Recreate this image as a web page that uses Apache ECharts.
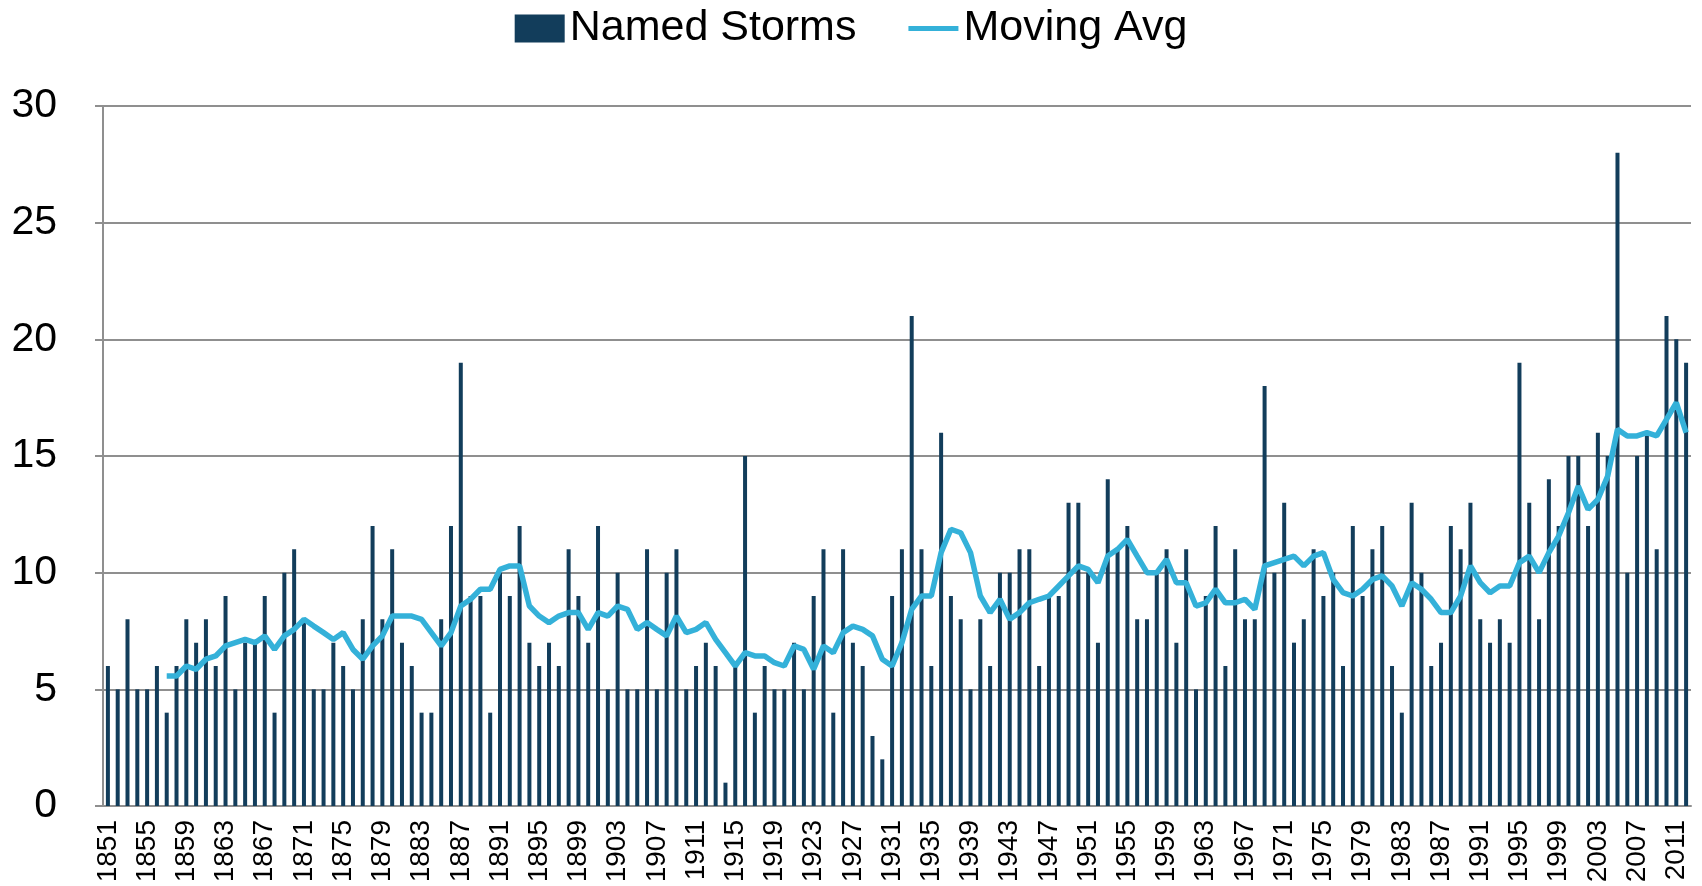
<!DOCTYPE html>
<html>
<head>
<meta charset="utf-8">
<style>
  html, body { margin: 0; padding: 0; background: #fff; }
  #chart { width: 1702px; height: 886px; }
</style>
<script src="https://cdn.jsdelivr.net/npm/echarts@6/dist/echarts.min.js"></script>
</head>
<body>
<div id="chart"></div>
<script>
// years on the category axis
const years = [
    '1851', '1852', '1853', '1854', '1855', '1856', '1857', '1858', '1859', '1860',
    '1861', '1862', '1863', '1864', '1865', '1866', '1867', '1868', '1869', '1870',
    '1871', '1872', '1873', '1874', '1875', '1876', '1877', '1878', '1879', '1880',
    '1881', '1882', '1883', '1884', '1885', '1886', '1887', '1888', '1889', '1890',
    '1891', '1892', '1893', '1894', '1895', '1896', '1897', '1898', '1899', '1900',
    '1901', '1902', '1903', '1904', '1905', '1906', '1907', '1908', '1909', '1910',
    '1911', '1912', '1913', '1914', '1915', '1916', '1917', '1918', '1919', '1920',
    '1921', '1922', '1923', '1924', '1925', '1926', '1927', '1928', '1929', '1930',
    '1931', '1932', '1933', '1934', '1935', '1936', '1937', '1938', '1939', '1940',
    '1941', '1942', '1943', '1944', '1945', '1946', '1947', '1948', '1949', '1950',
    '1951', '1952', '1953', '1954', '1955', '1956', '1957', '1958', '1959', '1960',
    '1961', '1962', '1963', '1964', '1965', '1966', '1967', '1968', '1969', '1970',
    '1971', '1972', '1973', '1974', '1975', '1976', '1977', '1978', '1979', '1980',
    '1981', '1982', '1983', '1984', '1985', '1986', '1987', '1988', '1989', '1990',
    '1991', '1992', '1993', '1994', '1995', '1996', '1997', '1998', '1999', '2000',
    '2001', '2002', '2003', '2004', '2005', '2006', '2007', '2008', '2009', '2010',
    '2011', '2012'
];

// named storms per year
const namedStorms = [
    6, 5, 8, 5, 5, 6, 4, 6, 8, 7,
    8, 6, 9, 5, 7, 7, 9, 4, 10, 11,
    8, 5, 5, 7, 6, 5, 8, 12, 8, 11,
    7, 6, 4, 4, 8, 12, 19, 9, 9, 4,
    10, 9, 12, 7, 6, 7, 6, 11, 9, 7,
    12, 5, 10, 5, 5, 11, 5, 10, 11, 5,
    6, 7, 6, 1, 6, 15, 4, 6, 5, 5,
    7, 5, 9, 11, 4, 11, 7, 6, 3, 2,
    9, 11, 21, 11, 6, 16, 9, 8, 5, 8,
    6, 10, 10, 11, 11, 6, 9, 9, 13, 13,
    10, 7, 14, 11, 12, 8, 8, 10, 11, 7,
    11, 5, 9, 12, 6, 11, 8, 8, 18, 10,
    13, 7, 8, 11, 9, 10, 6, 12, 9, 11,
    12, 6, 4, 13, 10, 6, 7, 12, 11, 13,
    8, 7, 8, 7, 19, 13, 8, 14, 12, 15,
    15, 12, 16, 15, 28, 10, 15, 16, 11, 21,
    20, 19
];

// moving average line (starts in 1857)
const movingAvg = [
    null, null, null, null, null, null, 5.57, 5.57, 6.00, 5.86,
    6.29, 6.43, 6.86, 7.00, 7.14, 7.00, 7.29, 6.71, 7.29, 7.57,
    8.00, 7.71, 7.43, 7.14, 7.43, 6.71, 6.29, 6.86, 7.29, 8.14,
    8.14, 8.14, 8.00, 7.43, 6.86, 7.43, 8.57, 8.86, 9.29, 9.29,
    10.14, 10.29, 10.29, 8.57, 8.14, 7.86, 8.14, 8.29, 8.29, 7.57,
    8.29, 8.14, 8.57, 8.43, 7.57, 7.86, 7.57, 7.29, 8.14, 7.43,
    7.57, 7.86, 7.14, 6.57, 6.00, 6.57, 6.43, 6.43, 6.14, 6.00,
    6.86, 6.71, 5.86, 6.86, 6.57, 7.43, 7.71, 7.57, 7.29, 6.29,
    6.00, 7.00, 8.43, 9.00, 9.00, 10.86, 11.86, 11.71, 10.86, 9.00,
    8.29, 8.86, 8.00, 8.29, 8.71, 8.86, 9.00, 9.43, 9.86, 10.29,
    10.14, 9.57, 10.71, 11.00, 11.43, 10.71, 10.00, 10.00, 10.57, 9.57,
    9.57, 8.57, 8.71, 9.29, 8.71, 8.71, 8.86, 8.43, 10.29, 10.43,
    10.57, 10.71, 10.29, 10.71, 10.86, 9.71, 9.14, 9.00, 9.29, 9.71,
    9.86, 9.43, 8.57, 9.57, 9.29, 8.86, 8.29, 8.29, 9.00, 10.29,
    9.57, 9.14, 9.43, 9.43, 10.43, 10.71, 10.00, 10.86, 11.57, 12.57,
    13.71, 12.71, 13.14, 14.14, 16.14, 15.86, 15.86, 16.00, 15.86, 16.57,
    17.29, 16.00
];

const font = '"Liberation Sans", Arial, sans-serif';
const gridColor = '#8f8f8f';

const chart = echarts.init(document.getElementById('chart'));

chart.setOption({
    animation: false,
    textStyle: { fontFamily: font },
    legend: {
        top: 2,
        left: 'center',
        itemWidth: 50,
        itemHeight: 28,
        itemGap: 52,
        textStyle: { fontSize: 43, color: '#000' },
        data: [
            { name: 'Named Storms', icon: 'rect' },
            { name: 'Moving Avg', icon: 'path://M0,0 L50,0 L50,5 L0,5 Z' }
        ]
    },
    grid: {
        left: 103,
        right: 11,
        top: 106,
        bottom: 80
    },
    xAxis: {
        type: 'category',
        data: years,
        boundaryGap: true,
        axisLine: { lineStyle: { color: gridColor, width: 2 } },
        axisTick: { interval: 0, length: 7, lineStyle: { color: gridColor, width: 1.5 } },
        axisLabel: {
            interval: 3,
            rotate: 90,
            margin: 14,
            fontSize: 28,
            color: '#000'
        }
    },
    yAxis: {
        type: 'value',
        min: 0,
        max: 30,
        interval: 5,
        axisLine: { show: true, lineStyle: { color: gridColor, width: 2 } },
        axisTick: { show: true, length: 8, lineStyle: { color: gridColor, width: 2 } },
        splitLine: { lineStyle: { color: gridColor, width: 2 } },
        axisLabel: {
            margin: 46,
            fontSize: 41,
            color: '#000'
        }
    },
    series: [
        {
            name: 'Named Storms',
            type: 'bar',
            data: namedStorms,
            barWidth: 4,
            itemStyle: { color: '#123d5b' }
        },
        {
            name: 'Moving Avg',
            type: 'line',
            data: movingAvg,
            showSymbol: false,
            symbol: 'none',
            connectNulls: false,
            lineStyle: { color: '#34b1d9', width: 5.5 },
            itemStyle: { color: '#34b1d9' }
        }
    ]
});
</script>
</body>
</html>
